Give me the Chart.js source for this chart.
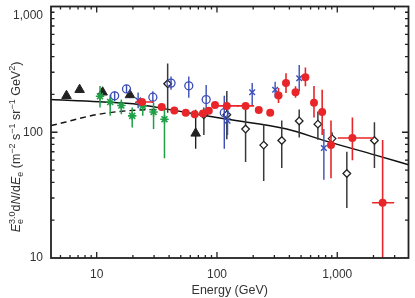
<!DOCTYPE html>
<html><head><meta charset="utf-8">
<script src="https://cdn.jsdelivr.net/npm/chart.js@4/dist/chart.umd.min.js"></script>
<style>html,body{margin:0;padding:0;background:#fff;}canvas{display:block;}</style>
</head><body>
<canvas id="c" width="415" height="298"></canvas>
<script>
// ---- data (energy in GeV, E^3 dN/dE) ----
// ATIC (red dots)
const aticE  = [23.8, 34.7, 44.2, 55.0, 65.3, 76.4, 85.5, 96.3, 120.7, 172.9, 222.6, 277, 324.8, 374.8, 449.8, 543.4, 640.5, 749, 887, 1336, 2383];
const aticV  = [174, 159, 149, 143, 139, 141, 148, 165, 162, 162, 150, 143, 196, 246, 208, 274, 172, 145, 79, 90, 27.5];
const aticLo = [null,null,null,null,null,null,null,null,null,null,null,null,171,205,188,232,131,95,43,60,5];
const aticHi = [null,null,null,null,null,null,null,null,null,null,null,null,225,294,232,328,233,218,124,131,86.6];
const aticXLo= [21.0,null,null,null,null,null,null,null,95.6,147.7,null,null,null,null,null,null,null,null,null,1008,1950];
const aticXHi= [29.6,null,null,null,null,null,null,null,152.6,203.6,null,null,null,null,null,null,null,null,null,2009,2972];
// PPB-BETS (blue crosses)
const ppbE  = [22.1, 122.4, 196.2, 304.5, 482.6, 773.7];
const ppbV  = [179.5, 123.4, 208, 217.8, 269, 75];
const ppbLo = [155, 95, 163, 189, 212, 42];
const ppbHi = [207, 157, 246, 252, 342, 106];
// HEAT (blue open circles)
const heatE  = [14.1, 17.7, 29.3, 41.5, 58.3, 81.3, 115];
const heatV  = [195, 221, 190, 246, 234, 182, 143];
const heatLo = [177, 205, 171, 218, 188, 143, 74];
const heatHi = [212, 238, 212, 277, 277, 238, 195];
// BETS (green stars)
const betsE  = [10.66, 12.95, 16.03, 19.73, 24.15, 29.7, 36.6];
const betsV  = [193.5, 174, 163, 135, 162, 145, 127];
const betsLo = [157, 135, 139, 109, 135, 106, 62];
const betsHi = [233, 199, 182, 157, 177, 172, 162];
// AMS (black triangles)
const amsE  = [5.61, 7.21, 11.2, 18.9, 66.5];
const amsV  = [195, 218, 208, 198, 98];
const amsLo = [185, 207, 197, 188, 74];
const amsHi = [205, 229, 219, 208, 151];
// Emulsion chambers (black open diamonds)
const emuE  = [38.9, 77.8, 120.7, 172.9, 244.6, 345.5, 482.6, 690, 905, 1201, 2037];
const emuV  = [243, 138, 138, 106, 79, 86, 123, 116, 89, 47, 86];
const emuLo = [143, 95, 88, 58, 41, 52, 91, 87, 76, 25, 52];
const emuHi = [352, 157, 213, 163, 116, 124, 152, 146, 100, 70, 120];
// Model curves
const solidE = [4.17, 10.5, 22.4, 39.4, 122, 380, 808, 2077, 3910];
const solidV = [182, 174.7, 166.3, 152, 127, 106, 85, 65.8, 55.2];
const dashE  = [4.17, 5.43, 7.21, 9.94, 16.2, 25.6, 39.4];
const dashV  = [113, 120, 129, 138, 147, 151, 152];
// axis ticks
const xLabelTicks = [10, 100, 1000];
const yLabelTicks = [10, 100, 1000];
const xMinorTicks = [5,6,7,8,9,20,30,40,50,60,70,80,90,200,300,400,500,600,700,800,900,2000,3000];
const yMinorTicks = [20,30,40,50,60,70,80,90,200,300,400,500,600,700,800,900];
const xMajorTicks = [10, 100, 1000];
const yMajorTicks = [100];

const FONT = "'Liberation Sans', Arial, Helvetica, sans-serif";
const TXT = '#333';
const RED = '#e8262a', BLUE = '#3b4db6', GREEN = '#1f9f48', BLACK = '#222';

function pts(E, V){ return E.map((e,i)=>({x:e, y:V[i]})); }
function fmt(v){ return v >= 1000 ? v.toLocaleString('en-US') : String(v); }

const errPlugin = {
  id:'err',
  beforeDatasetDraw(chart, args){
    const ds = chart.data.datasets[args.index];
    if(!ds.err) return;
    const xs = chart.scales.x, ys = chart.scales.y, a = chart.chartArea, c = chart.ctx, e = ds.err;
    c.save();
    c.beginPath(); c.rect(a.left, a.top, a.right-a.left, a.bottom-a.top); c.clip();
    c.strokeStyle = e.color; c.lineWidth = e.width || 1.5;
    ds.data.forEach((p,i)=>{
      const px = xs.getPixelForValue(p.x), py = ys.getPixelForValue(p.y);
      c.beginPath();
      if(e.lo && e.lo[i]!=null){ c.moveTo(px, ys.getPixelForValue(e.lo[i])); c.lineTo(px, ys.getPixelForValue(e.hi[i])); }
      if(e.xlo && e.xlo[i]!=null){ c.moveTo(xs.getPixelForValue(e.xlo[i]), py); c.lineTo(xs.getPixelForValue(e.xhi[i]), py); }
      c.stroke();
    });
    c.restore();
  }
};

const framePlugin = {
  id:'frame',
  afterDatasetsDraw(chart){
    const xs = chart.scales.x, ys = chart.scales.y, a = chart.chartArea, c = chart.ctx;
    c.save();
    c.strokeStyle = BLACK; c.lineWidth = 1.3;
    const tick = (vals, len) => {
      vals.forEach(v=>{
        const px = xs.getPixelForValue(v);
        c.beginPath(); c.moveTo(px, a.bottom); c.lineTo(px, a.bottom-len);
        c.moveTo(px, a.top); c.lineTo(px, a.top+len); c.stroke();
      });
    };
    const ytick = (vals, len) => {
      vals.forEach(v=>{
        const py = ys.getPixelForValue(v);
        c.beginPath(); c.moveTo(a.left, py); c.lineTo(a.left+len, py);
        c.moveTo(a.right, py); c.lineTo(a.right-len, py); c.stroke();
      });
    };
    tick(xMinorTicks, 3); tick(xMajorTicks, 6);
    ytick(yMinorTicks, 3.5); ytick(yMajorTicks, 6.5);
    c.lineWidth = 1.8;
    c.strokeRect(a.left, a.top, a.right-a.left, a.bottom-a.top);
    c.restore();
  }
};

// y-axis title with sub/superscripts
const yTitleParts = [
  {t:'E', st:'italic'}, {t:'e', pos:'sub', noadv:true}, {t:'3.0', pos:'sup'},
  {t:'d'}, {t:'N', st:'italic'}, {t:'/d'}, {t:'E', st:'italic'}, {t:'e', pos:'sub'},
  {t:' (m'}, {t:'\u22122', pos:'sup'}, {t:' s'}, {t:'\u22121', pos:'sup'},
  {t:' sr'}, {t:'\u22121', pos:'sup'}, {t:' GeV'}, {t:'2', pos:'sup'}, {t:')'}
];
const yTitlePlugin = {
  id:'ytitle',
  afterDraw(chart){
    const c = chart.ctx, big = 12.5, small = 9;
    const fontOf = p => (p.st==='italic'?'italic ':'') + (p.pos? small: big) + 'px ' + FONT;
    let total = 0;
    yTitleParts.forEach(p=>{ c.font = fontOf(p); if(!p.noadv) total += c.measureText(p.t).width; });
    c.save();
    c.translate(19.5, 147);
    c.rotate(-Math.PI/2);
    c.fillStyle = TXT; c.textBaseline = 'alphabetic'; c.textAlign = 'left';
    let x = -total/2;
    yTitleParts.forEach(p=>{
      c.font = fontOf(p);
      const dy = p.pos==='sup' ? -5 : (p.pos==='sub' ? 3 : 0);
      c.fillText(p.t, x, dy);
      if(!p.noadv) x += c.measureText(p.t).width;
    });
    c.restore();
  }
};

new Chart(document.getElementById('c'), {
  type:'scatter',
  data:{ datasets:[
    { label:'ATIC', data:pts(aticE, aticV), pointStyle:'circle', pointRadius:4, backgroundColor:RED, borderColor:RED, borderWidth:0,
      err:{lo:aticLo, hi:aticHi, xlo:aticXLo, xhi:aticXHi, color:RED, width:1.6} },
    { label:'PPB-BETS', data:pts(ppbE, ppbV), pointStyle:'crossRot', pointRadius:4, borderColor:BLUE, backgroundColor:BLUE, borderWidth:1.4,
      err:{lo:ppbLo, hi:ppbHi, color:BLUE, width:1.4} },
    { label:'HEAT', data:pts(heatE, heatV), pointStyle:'circle', pointRadius:4, borderColor:BLUE, backgroundColor:'rgba(0,0,0,0)', borderWidth:1.3,
      err:{lo:heatLo, hi:heatHi, color:BLUE, width:1.4} },
    { label:'BETS', data:pts(betsE, betsV), pointStyle:'star', pointRadius:4.2, borderColor:GREEN, backgroundColor:GREEN, borderWidth:1.6,
      err:{lo:betsLo, hi:betsHi, color:GREEN, width:1.5} },
    { label:'AMS', data:pts(amsE, amsV), pointStyle:'triangle', pointRadius:5.5, borderColor:BLACK, backgroundColor:BLACK, borderWidth:1,
      err:{lo:amsLo, hi:amsHi, color:BLACK, width:1.4} },
    { label:'Emulsion', data:pts(emuE, emuV), pointStyle:'rectRot', pointRadius:3.8, borderColor:BLACK, backgroundColor:'#fff', borderWidth:1.3,
      err:{lo:emuLo, hi:emuHi, color:'#3a3a3a', width:1.5} },
    { label:'model', data:pts(solidE, solidV), showLine:true, pointRadius:0, borderColor:'#111', borderWidth:1.5, cubicInterpolationMode:'monotone', fill:false },
    { label:'model (modulated)', data:pts(dashE, dashV), showLine:true, pointRadius:0, borderColor:'#111', borderWidth:1.4, borderDash:[6,4], cubicInterpolationMode:'monotone', fill:false }
  ]},
  options:{
    responsive:false, animation:false, devicePixelRatio:1,
    layout:{ padding:{top:2, right:1, left:0, bottom:0} },
    plugins:{ legend:{display:false}, tooltip:{enabled:false} },
    scales:{
      x:{ type:'logarithmic', min:4.17, max:3910, position:'bottom',
        grid:{display:false, drawTicks:false}, border:{display:false},
        afterBuildTicks: s => { s.ticks = xLabelTicks.map(v=>({value:v})); },
        ticks:{ callback:v=>fmt(v), color:TXT, font:{family:FONT, size:12}, padding:9, maxRotation:0, autoSkip:false },
        title:{ display:true, text:'Energy (GeV)', color:TXT, font:{family:FONT, size:12.5}, padding:{top:0, bottom:0} },
        afterFit: s => { s.height = 40; s.paddingLeft = 0; s.paddingRight = 0; }
      },
      y:{ type:'logarithmic', min:10, max:1000, position:'left',
        grid:{display:false, drawTicks:false}, border:{display:false},
        afterBuildTicks: s => { s.ticks = yLabelTicks.map(v=>({value:v})); },
        ticks:{ callback:v=> v>=1000 ? ['', fmt(v)] : fmt(v), color:TXT, font:{family:FONT, size:12, lineHeight:1.5}, padding:8, autoSkip:false },
        afterFit: s => { s.width = 51; s.paddingTop = 0; s.paddingBottom = 0; }
      }
    }
  },
  plugins:[errPlugin, framePlugin, yTitlePlugin]
});
</script>
</body></html>
